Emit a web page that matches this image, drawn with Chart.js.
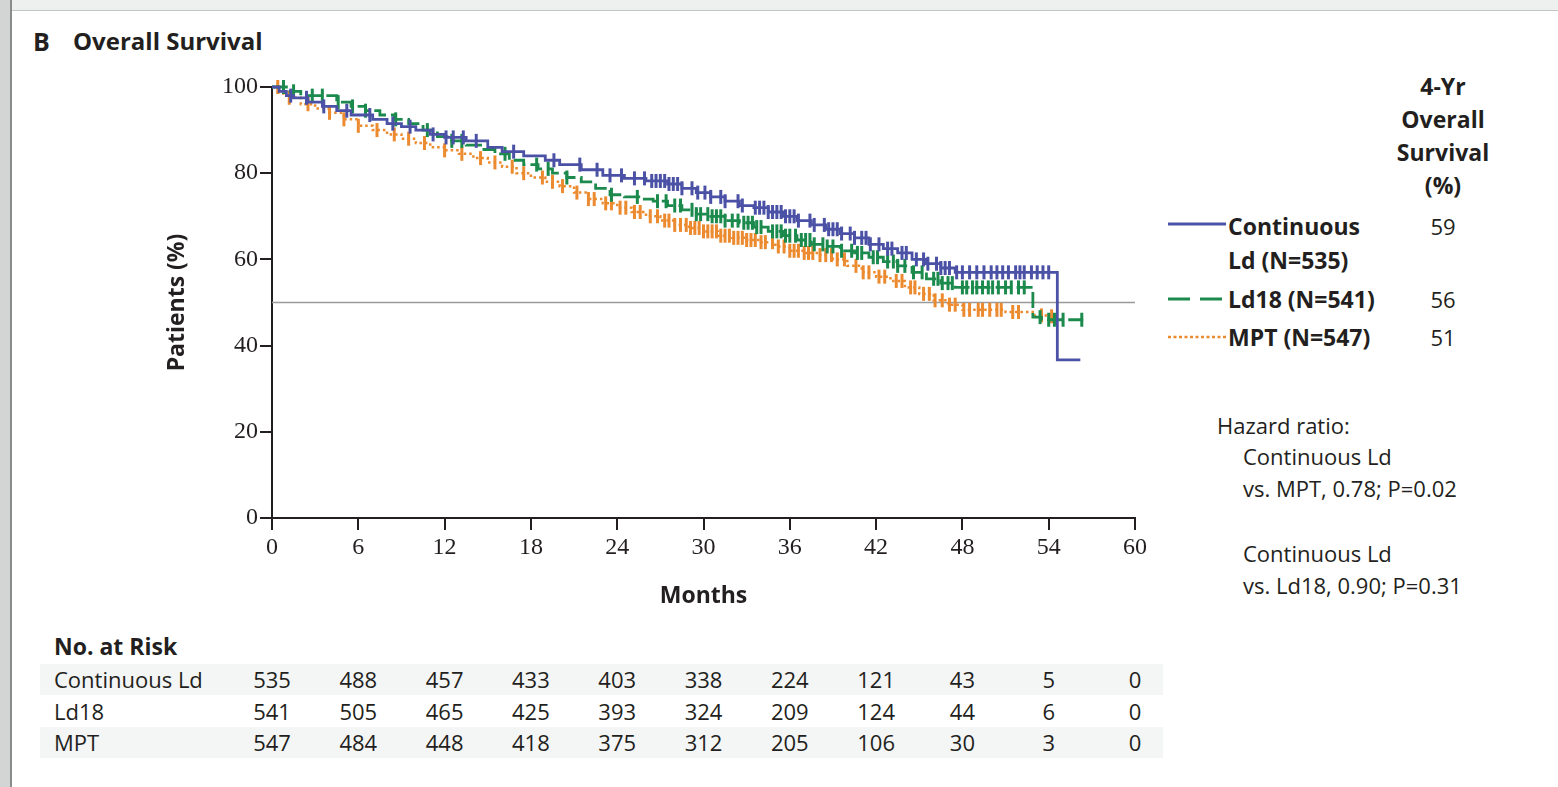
<!DOCTYPE html>
<html>
<head>
<meta charset="utf-8">
<script src="https://cdn.jsdelivr.net/npm/chart.js@4.4.1/dist/chart.umd.min.js"></script>
<style>
html, body { margin: 0; padding: 0; background: #fff; }
body { width: 1558px; height: 787px; position: relative; overflow: hidden; font-family: "Open Sans", Lato, sans-serif; color: #231f20; }
#frameTop { position: absolute; left: 0; top: 0; width: 1558px; height: 10px; background: #eef0f0; border-bottom: 1px solid #c4c6c6; }
#frameLeft { position: absolute; left: 0; top: 0; width: 10px; height: 787px; background: #d3d5d5; border-right: 2px solid #8a8c8c; }
.t { position: absolute; white-space: nowrap; }
.b { font-weight: bold; }
#km { position: absolute; left: 140px; top: 70px; }
.band { position: absolute; left: 40px; width: 1123px; height: 31px; background: #f4f5f5; }
</style>
</head>
<body>
<div id="frameTop"></div>
<div id="frameLeft"></div>

<div class="t b" style="left:33px; top:25px; font-size:25px; line-height:32px;">B</div>
<div class="t b" style="left:73px; top:25px; font-size:24px; line-height:32px;">Overall Survival</div>

<canvas id="km" width="1020" height="560"></canvas>

<!-- legend, right side -->
<div class="t b" style="left:1383px; top:70px; width:120px; text-align:center; font-size:23px; line-height:33px;">4-Yr<br>Overall<br>Survival<br>(%)</div>
<svg class="t" style="left:1166px; top:210px;" width="62" height="140">
  <line x1="2" y1="14" x2="60" y2="14" stroke="#4b52a6" stroke-width="3"/>
  <line x1="2" y1="89" x2="60" y2="89" stroke="#1b8a4c" stroke-width="3" stroke-dasharray="22,10"/>
  <line x1="2" y1="127" x2="60" y2="127" stroke="#ec8a2f" stroke-width="2.5" stroke-dasharray="3,2.5"/>
</svg>
<div id="legendText"></div>

<div class="t" style="left:1217px; top:409px; font-size:22px; line-height:32px;">Hazard ratio:</div>
<div class="t" style="left:1243px; top:440px; font-size:22px; line-height:32px;">Continuous Ld<br>vs. MPT, 0.78; P=0.02</div>
<div class="t" style="left:1243px; top:537px; font-size:22px; line-height:32px;">Continuous Ld<br>vs. Ld18, 0.90; P=0.31</div>

<!-- risk table -->
<div class="band" style="top:664px;"></div>
<div class="band" style="top:727px;"></div>
<div class="t b" style="left:54px; top:630px; font-size:23px; line-height:32px;">No. at Risk</div>
<div id="riskTable"></div>

<script>
// x axis (months) and y axis (%)
const months = [0, 6, 12, 18, 24, 30, 36, 42, 48, 54, 60];
const yTicks = [0, 20, 40, 60, 80, 100];

// Continuous Ld - Kaplan-Meier steps (month, survival %)
const cldTime = [0, 0.5, 1, 1.5, 2.5, 3.5, 4.5, 5.5, 7, 8, 9, 10, 11, 12, 13.5, 15, 16, 17.5, 19, 20, 21.5, 23, 24.5, 26, 27.5, 28.5, 29.5, 30.5, 31.5, 32.5, 33.5, 34.5, 35.5, 36.5, 37.5, 38.5, 39.5, 40.5, 41.5, 42.5, 43.5, 44.5, 45.5, 46.5, 47.5, 54.6, 56.2];
const cldSurv = [100, 99, 98, 97.5, 96.5, 95.5, 94.5, 93.5, 92.5, 91.5, 90.8, 90, 89, 88.3, 87.5, 86, 85, 84, 83, 82, 80.8, 79.5, 78.8, 78.2, 77.5, 76.5, 75.5, 74.5, 73.5, 72.5, 72, 71, 70, 69, 68, 67, 66, 65, 63.5, 62.5, 61.5, 60, 59, 58, 57, 36.7, 36.7];
const cldCensor = [1.3, 2.4, 3.6, 5.2, 6.8, 8.4, 9.6, 11.2, 12.1, 12.6, 13.3, 14.2, 16.8, 19.6, 21.4, 22.6, 23.5, 24.3, 25.2, 25.9, 26.4, 26.7, 27.0, 27.3, 27.6, 27.9, 28.2, 28.5, 29.2, 29.6, 30.1, 30.5, 31.2, 31.5, 32.4, 32.7, 33.6, 33.9, 34.2, 34.5, 34.8, 35.1, 35.4, 35.7, 36.0, 36.3, 36.6, 37.4, 37.7, 38.4, 38.7, 39.0, 39.3, 39.6, 40.2, 40.5, 41.0, 41.3, 41.6, 42.2, 42.8, 43.1, 43.8, 44.1, 44.8, 45.3, 45.6, 46.2, 46.5, 46.8, 47.1, 47.6, 48.0, 48.5, 49.0, 49.5, 50.0, 50.4, 50.8, 51.2, 51.7, 52.0, 52.3, 52.8, 53.2, 53.6, 54.0];

// Ld18
const ld18Time = [0, 1, 2, 4.5, 5.5, 6.5, 7.5, 8.5, 9.5, 10.5, 11.5, 12.5, 13.5, 14.5, 15.5, 16.5, 17.5, 18.5, 19.5, 20.5, 21.5, 22.5, 23.5, 24.5, 25.5, 26.5, 27.5, 28.5, 29.5, 30.5, 31.5, 32.5, 33.5, 34.5, 35.5, 36.5, 37.5, 38.5, 39.5, 40.5, 41.5, 42.5, 43.5, 44.5, 45.5, 46.5, 47.5, 52.9, 53.5, 56.4];
const ld18Surv = [100, 99, 98, 96.5, 95.5, 94.5, 93.5, 92.5, 91.5, 90, 88.5, 87.5, 86.5, 85.5, 84.5, 83, 82, 81, 80, 79, 78, 76.5, 75, 74.5, 74, 73.5, 72.5, 71.5, 70.5, 70, 69, 68.5, 67.5, 66.5, 65.5, 64.5, 63.5, 63, 62, 61.5, 60.5, 59.5, 58.5, 57, 55.5, 54.5, 53.5, 46.6, 46, 46];
const ld18Censor = [0.8, 1.5, 2.8, 3.5, 4.6, 5.6, 6.5, 8.6, 10.8, 12.5, 13.2, 16.2, 18.4, 19.2, 20.5, 23.6, 25.4, 26.8, 27.4, 28.0, 28.4, 29.2, 29.5, 29.8, 30.3, 30.6, 30.9, 31.2, 31.5, 32.0, 32.4, 32.8, 33.1, 33.4, 33.7, 34.0, 34.8, 35.1, 35.4, 35.7, 36.0, 36.4, 36.8, 37.1, 37.4, 37.7, 38.3, 38.6, 39.0, 39.6, 40.3, 40.7, 41.0, 41.8, 42.1, 42.8, 43.2, 43.5, 44.0, 44.6, 45.2, 46.0, 46.3, 46.6, 47.0, 47.3, 48.0, 48.3, 48.7, 49.0, 49.4, 49.8, 50.1, 50.5, 51.0, 51.4, 51.9, 52.3, 53.4, 54.0, 54.4, 55.0, 56.3];

// MPT
const mptTime = [0, 0.5, 1, 2, 3, 4, 5, 6, 7, 8, 9, 10, 11, 12, 13, 14, 15, 16, 17, 18, 19, 20, 21, 22, 23, 24, 25, 26, 27, 28, 29, 30, 31, 32, 33, 34, 35, 36, 37, 38, 39, 40, 41, 42, 43, 44, 45, 46, 47, 48, 51, 53, 54, 54.8];
const mptSurv = [100, 98.5, 97.5, 96, 95, 94, 92.5, 91, 90, 89, 88, 87, 86, 85.3, 84.5, 83.5, 82.5, 81.5, 80, 79, 78, 77, 75.5, 74, 73, 72, 71, 70, 69, 68, 67.3, 66.5, 65.5, 65, 64.5, 64, 63, 62, 61.5, 61, 60, 58.5, 57, 56, 55, 53.5, 52, 50.5, 49.5, 48.3, 47.8, 47, 46.8, 46.8];
const mptCensor = [0.4, 1.2, 2.5, 4.0, 5.0, 6.0, 7.3, 8.5, 9.5, 10.6, 12.0, 13.2, 14.5, 15.5, 16.7, 17.5, 18.8, 19.5, 20.2, 21.2, 22.0, 22.4, 23.2, 23.6, 24.2, 24.6, 25.2, 25.6, 26.3, 26.8, 27.3, 27.6, 28.0, 28.4, 28.8, 29.1, 29.4, 29.7, 30.0, 30.3, 30.6, 30.9, 31.2, 31.5, 31.8, 32.1, 32.4, 32.7, 33.0, 33.3, 33.6, 34.0, 34.3, 34.8, 35.2, 35.6, 36.0, 36.3, 36.6, 37.0, 37.3, 37.6, 38.1, 38.5, 38.9, 39.3, 39.8, 40.6, 41.1, 41.5, 42.2, 42.6, 43.4, 43.8, 44.4, 44.7, 45.3, 45.7, 46.1, 46.6, 47.1, 47.5, 48.1, 48.5, 49.1, 49.4, 49.9, 50.4, 50.7, 51.5, 51.9, 53.5, 54.2];

const medianLine = 50;

// legend / 4-yr survival
const seriesNames = ['Continuous Ld (N=535)', 'Ld18 (N=541)', 'MPT (N=547)'];
const fourYr = [59, 56, 51];

// no. at risk
const riskLabels = ['Continuous Ld', 'Ld18', 'MPT'];
const riskCld = [535, 488, 457, 433, 403, 338, 224, 121, 43, 5, 0];
const riskLd18 = [541, 505, 465, 425, 393, 324, 209, 124, 44, 6, 0];
const riskMpt = [547, 484, 448, 418, 375, 312, 205, 106, 30, 3, 0];

const blue = '#4b52a6';
const green = '#1b8a4c';
const orange = '#ec8a2f';

function stepPoints(t, s) {
    return t.map((m, i) => ({ x: m, y: s[i] }));
}

// survival value of the step curve at a censoring time
function survAt(t, s, m) {
    let v = s[0];
    for (let i = 0; i < t.length; i++) {
        if (t[i] <= m) v = s[i];
    }
    return v;
}

function censorPoints(t, s, c) {
    return c.map(m => ({ x: m, y: survAt(t, s, m) }));
}

function curve(data, color, dash, width) {
    return {
        type: 'line', data: data, borderColor: color, borderWidth: width,
        borderDash: dash, stepped: true, pointRadius: 0, fill: false, clip: false
    };
}

function ticks(data, color) {
    return {
        type: 'scatter', data: data, showLine: false, pointStyle: 'line',
        rotation: 90, pointRadius: 7, borderColor: color, backgroundColor: color,
        borderWidth: 3, pointHoverRadius: 7, clip: false
    };
}

const serifTicks = { family: '"Liberation Serif", "DejaVu Serif", serif', size: 24 };
const boldTitle = { family: '"Open Sans", Lato, sans-serif', size: 23, weight: 'bold' };

const chart = new Chart(document.getElementById('km'), {
    data: {
        datasets: [
            curve(stepPoints(cldTime, cldSurv), blue, [], 2.8),
            ticks(censorPoints(cldTime, cldSurv, cldCensor), blue),
            curve(stepPoints(ld18Time, ld18Surv), green, [16, 5], 2.8),
            ticks(censorPoints(ld18Time, ld18Surv, ld18Censor), green),
            curve(stepPoints(mptTime, mptSurv), orange, [2.5, 3], 2.5),
            ticks(censorPoints(mptTime, mptSurv, mptCensor), orange),
            {
                type: 'line', data: [{ x: months[0], y: medianLine }, { x: months[months.length - 1], y: medianLine }],
                borderColor: '#9a9a9a', borderWidth: 1.5, pointRadius: 0
            }
        ]
    },
    options: {
        responsive: false,
        animation: false,
        events: [],
        layout: { padding: { left: 0, top: 17, right: 25, bottom: 12 } },
        plugins: { legend: { display: false }, tooltip: { enabled: false } },
        scales: {
            x: {
                type: 'linear', min: 0, max: 60,
                afterBuildTicks: s => { s.ticks = months.map(v => ({ value: v })); },
                afterFit: s => { s.height = 100; },
                ticks: { color: '#231f20', font: serifTicks, padding: 3, maxRotation: 0 },
                grid: { drawOnChartArea: false, drawTicks: true, tickLength: 12, color: '#231f20', lineWidth: 2 },
                border: { display: true, color: '#231f20', width: 2 },
                title: { display: true, text: 'Months', color: '#231f20', font: boldTitle, padding: { top: 0, bottom: 8 } }
            },
            y: {
                type: 'linear', min: 0, max: 100,
                afterBuildTicks: s => { s.ticks = yTicks.map(v => ({ value: v })); },
                afterFit: s => { s.width = 132; },
                ticks: { color: '#231f20', font: serifTicks, padding: 2 },
                grid: { drawOnChartArea: false, drawTicks: true, tickLength: 12, color: '#231f20', lineWidth: 2 },
                border: { display: true, color: '#231f20', width: 2 },
                title: { display: true, text: 'Patients (%)', color: '#231f20', font: boldTitle, padding: { top: 24, bottom: 0 } }
            }
        }
    }
});

// legend text (names + 4-yr values)
const legendTop = [209, 282, 320];
let lg = '';
lg += '<div class="t b" style="left:1228px; top:' + legendTop[0] + 'px; font-size:23px; line-height:34px;">Continuous<br>Ld (N=535)</div>';
for (let i = 1; i < seriesNames.length; i++) {
    lg += '<div class="t b" style="left:1228px; top:' + legendTop[i] + 'px; font-size:23px; line-height:34px;">' + seriesNames[i] + '</div>';
}
for (let i = 0; i < fourYr.length; i++) {
    lg += '<div class="t" style="left:1413px; width:60px; text-align:center; top:' + legendTop[i] + 'px; font-size:22px; line-height:34px;">' + fourYr[i] + '</div>';
}
document.getElementById('legendText').innerHTML = lg;

// risk table, numbers centered under the x ticks
const xScale = chart.scales.x;
const canvasLeft = document.getElementById('km').offsetLeft;
const riskRows = [riskCld, riskLd18, riskMpt];
const rowTop = [664, 696, 727];
let html = '';
riskRows.forEach((row, r) => {
    html += '<div class="t" style="left:54px; top:' + rowTop[r] + 'px; font-size:22px; line-height:31px;">' + riskLabels[r] + '</div>';
    row.forEach((n, i) => {
        const cx = canvasLeft + xScale.getPixelForValue(months[i]);
        html += '<div class="t" style="left:' + (cx - 40) + 'px; width:80px; text-align:center; top:' + rowTop[r] + 'px; font-size:22px; line-height:31px;">' + n + '</div>';
    });
});
document.getElementById('riskTable').innerHTML = html;
</script>
</body>
</html>
